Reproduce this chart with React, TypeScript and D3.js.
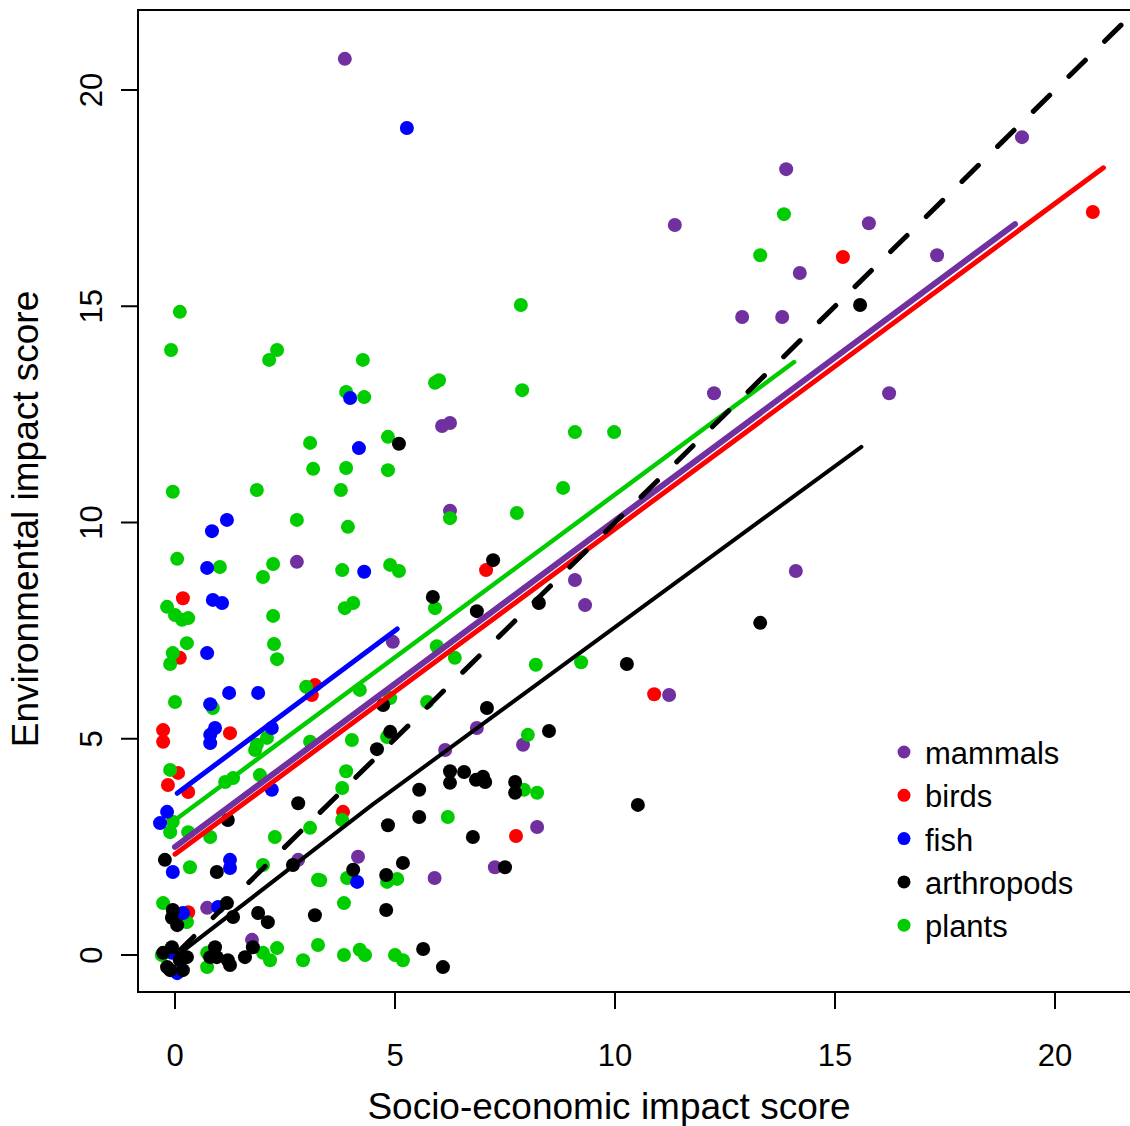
import React from 'react';
import * as d3 from 'd3';

// scores: [socio-economic, environmental]
const mammals: [number, number][] = [
  [3.86, 20.72], [19.25, 18.91], [13.89, 18.17], [11.36, 16.88], [15.77, 16.92], [17.32, 16.18],
  [14.2, 15.77], [12.89, 14.75], [13.8, 14.75], [12.25, 12.99], [16.23, 12.99], [6.07, 12.23],
  [6.25, 12.3], [6.25, 10.27], [2.77, 9.09], [14.11, 8.88], [9.09, 8.67], [9.32, 8.09],
  [4.95, 7.24], [11.23, 6.01], [6.86, 5.25], [6.14, 4.74], [7.91, 4.86], [2.8, 2.2],
  [4.16, 2.27], [5.9, 1.78], [7.27, 2.03], [8.23, 2.96], [0.73, 1.09], [1.75, 0.35],
];

const birds: [number, number][] = [
  [20.86, 17.18], [15.18, 16.14], [7.07, 8.9], [10.89, 6.03], [7.75, 2.75], [0.18, 8.25],
  [0.11, 6.87], [3.18, 6.24], [3.11, 6.01], [-0.27, 5.2], [-0.27, 4.93], [1.25, 5.13],
  [0.07, 4.21], [-0.16, 3.93], [0.3, 3.77], [0.3, 0.99], [3.82, 3.31],
];

const fish: [number, number][] = [
  [5.27, 19.12], [3.98, 12.88], [4.18, 11.72], [4.3, 8.86], [1.18, 10.06], [0.84, 9.8],
  [0.73, 8.95], [0.86, 8.21], [1.07, 8.14], [0.73, 6.98], [1.23, 6.06], [1.89, 6.06],
  [0.8, 5.8], [0.91, 5.25], [0.8, 5.09], [0.8, 4.9], [2.2, 5.25], [2.2, 3.82],
  [-0.18, 3.31], [-0.34, 3.05], [1.25, 2.2], [1.25, 2.01], [-0.05, 1.92], [0.18, 0.97],
  [0.98, 1.11], [-0.07, 0.05], [0.05, -0.42], [4.14, 1.69],
];

const arthropods: [number, number][] = [
  [15.57, 15.03], [5.09, 11.82], [7.23, 9.13], [5.86, 8.28], [6.86, 7.95], [8.27, 8.14],
  [13.3, 7.68], [10.27, 6.73], [7.09, 5.71], [4.89, 5.16], [4.59, 4.76], [4.73, 5.78],
  [6.25, 4.25], [6.57, 4.23], [6.84, 4.05], [7.0, 4.12], [6.25, 3.98], [7.05, 4.0],
  [7.73, 4.0], [8.5, 5.18], [7.73, 3.75], [10.52, 3.47], [7.5, 2.03], [5.55, 3.82],
  [5.55, 3.19], [4.84, 3.0], [6.77, 2.73], [5.18, 2.13], [4.8, 1.85], [4.05, 1.97],
  [4.8, 1.04], [5.64, 0.14], [6.09, -0.28], [2.8, 3.51], [1.2, 3.12], [-0.23, 2.2],
  [2.68, 2.08], [0.95, 1.92], [1.18, 1.2], [1.32, 0.88], [-0.05, 1.04], [0.05, 0.69],
  [-0.07, 0.86], [1.89, 0.97], [2.11, 0.76], [3.18, 0.92], [-0.27, 0.05], [-0.18, -0.28],
  [0.11, -0.12], [0.18, -0.35], [-0.07, 0.18], [0.27, -0.05], [0.91, 0.18], [0.95, -0.05],
  [1.2, -0.12], [1.25, -0.23], [1.59, -0.05], [1.77, 0.18], [0.8, -0.05], [-0.11, -0.35],
];

const plants: [number, number][] = [
  [0.11, 14.87], [-0.09, 13.99], [2.32, 13.99], [2.14, 13.76], [3.07, 11.84], [3.14, 11.24],
  [-0.05, 10.71], [1.86, 10.75], [4.27, 13.76], [3.89, 13.02], [4.3, 12.9], [5.91, 13.23],
  [6.0, 13.29], [7.86, 15.03], [7.89, 13.06], [4.84, 11.98], [3.89, 11.26], [4.84, 11.21],
  [3.77, 10.75], [3.93, 9.9], [6.25, 10.1], [7.77, 10.22], [2.77, 10.06], [9.09, 12.09],
  [9.98, 12.09], [8.82, 10.8], [13.84, 17.13], [13.3, 16.18], [1.02, 8.97], [2.0, 8.74],
  [2.23, 9.04], [0.05, 9.16], [-0.18, 8.05], [0, 7.86], [0.16, 7.75], [0.3, 7.79],
  [2.23, 7.84], [0.27, 7.21], [-0.05, 6.98], [-0.11, 6.73], [2.25, 7.19], [2.32, 6.84],
  [0, 5.85], [2.98, 6.2], [0.86, 5.71], [3.8, 8.9], [4.89, 9.02], [5.09, 8.88],
  [3.86, 8.02], [4.05, 8.14], [5.91, 8.02], [5.95, 7.14], [6.36, 6.87], [4.2, 6.13],
  [4.89, 5.94], [5.73, 5.85], [4.02, 4.97], [4.82, 5.04], [3.89, 4.25], [3.8, 3.86],
  [-0.11, 4.28], [1.86, 4.86], [2.09, 5.02], [1.82, 4.74], [3.07, 4.93], [1.14, 4.0],
  [1.32, 4.09], [1.93, 4.16], [-0.05, 3.08], [0.3, 2.84], [-0.11, 2.84], [0.8, 2.73],
  [2.27, 2.73], [3.07, 2.94], [2.0, 2.08], [0.34, 2.03], [3.25, 1.74], [-0.27, 1.2],
  [0.27, 0.76], [0.73, 0.05], [0.73, -0.28], [2.0, 0.05], [2.32, 0.16], [2.16, -0.12],
  [2.91, -0.12], [3.25, 0.23], [-0.3, 0], [6.2, 3.19], [3.8, 3.12], [3.3, 1.73],
  [3.91, 1.78], [4.82, 1.69], [5.05, 1.76], [3.84, 1.2], [3.84, 0], [4.2, 0.12],
  [4.32, 0], [5.0, 0], [5.18, -0.12], [8.02, 5.09], [7.93, 3.82], [8.23, 3.75],
  [8.2, 6.71], [9.23, 6.77],
];

// fitted lines per group (as drawn)
const fitMammals: [number, number][] = [[0, 2.5], [19.09, 16.9]];
const fitBirds: [number, number][] = [[0, 2.33], [21.1, 18.2]];
const fitFish: [number, number][] = [[0.05, 3.74], [5.05, 7.54]];
const fitArthropods: [number, number][] = [[0, -0.05], [4.48, 3.47], [15.6, 11.75]];
const fitPlants: [number, number][] = [[0, 3.12], [14.07, 13.71]];
const oneToOne: [number, number][] = [[0, 0], [23, 23]];

const ticks = [0, 5, 10, 15, 20];
const legendNames = ['mammals', 'birds', 'fish', 'arthropods', 'plants'];

const colors: Record<string, string> = {
  mammals: '#7030A0',
  birds: '#FF0000',
  fish: '#0000FF',
  arthropods: '#000000',
  plants: '#00CC00',
};

const W = 1130;
const H = 1126;
const box = { left: 138, top: 10, right: 1131, bottom: 992 };
const font = '"Liberation Sans", Arial, sans-serif';

export default function App() {
  const x = d3.scaleLinear().domain([0, 20]).range([175, 1055]);
  const y = d3.scaleLinear().domain([0, 20]).range([955, 90]);
  const line = d3.line<[number, number]>().x(d => x(d[0])).y(d => y(d[1]));

  // drawing order of the point groups
  const layers: [string, [number, number][]][] = [
    ['birds', birds], ['mammals', mammals], ['plants', plants], ['fish', fish], ['arthropods', arthropods],
  ];

  const fits: { key: string; pts: [number, number][]; w: number }[] = [
    { key: 'plants', pts: fitPlants, w: 4.5 },
    { key: 'fish', pts: fitFish, w: 5 },
    { key: 'arthropods', pts: fitArthropods, w: 4 },
    { key: 'birds', pts: fitBirds, w: 5 },
    { key: 'mammals', pts: fitMammals, w: 6 },
  ];

  return (
    <svg width={W} height={H} style={{ position: 'absolute', left: 0, top: 0, background: '#fff' }}
      fontFamily={font}>
      <defs>
        <clipPath id="plotArea">
          <rect x={box.left} y={box.top} width={box.right - box.left} height={box.bottom - box.top} />
        </clipPath>
      </defs>

      <g clipPath="url(#plotArea)">
        {layers.map(([key, pts]) => (
          <g key={key} fill={colors[key]}>
            {pts.map((d, i) => <circle key={i} cx={x(d[0])} cy={y(d[1])} r={7} />)}
          </g>
        ))}
        {fits.map(f => (
          <path key={f.key} d={line(f.pts) || ''} fill="none" stroke={colors[f.key]}
            strokeWidth={f.w} strokeLinecap="round" />
        ))}
        <path d={line(oneToOne) || ''} fill="none" stroke="#000" strokeWidth={5}
          strokeDasharray="23 27" strokeDashoffset={-3.5} strokeLinecap="round" />
      </g>

      <rect x={box.left} y={box.top} width={box.right - box.left} height={box.bottom - box.top}
        fill="none" stroke="#000" strokeWidth={2} />

      {/* x axis */}
      {ticks.map(t => (
        <g key={'x' + t}>
          <line x1={x(t)} x2={x(t)} y1={box.bottom} y2={box.bottom + 17} stroke="#000" strokeWidth={2} />
          <text x={x(t)} y={1066} textAnchor="middle" fontSize={31}>{t}</text>
        </g>
      ))}
      {/* y axis */}
      {ticks.map(t => (
        <g key={'y' + t}>
          <line x1={box.left - 17} x2={box.left} y1={y(t)} y2={y(t)} stroke="#000" strokeWidth={2} />
          <text transform={`translate(102,${y(t)}) rotate(-90)`} textAnchor="middle" fontSize={31}>{t}</text>
        </g>
      ))}

      <text x={609} y={1119} textAnchor="middle" fontSize={37}>Socio-economic impact score</text>
      <text transform="translate(38,519) rotate(-90)" textAnchor="middle" fontSize={37}>Environmental impact score</text>

      {/* legend */}
      {legendNames.map((n, i) => (
        <g key={n} transform={`translate(904,${752 + i * 43.3})`}>
          <circle r={6.5} fill={colors[n]} />
          <text x={21} y={12} fontSize={31}>{n}</text>
        </g>
      ))}
    </svg>
  );
}
